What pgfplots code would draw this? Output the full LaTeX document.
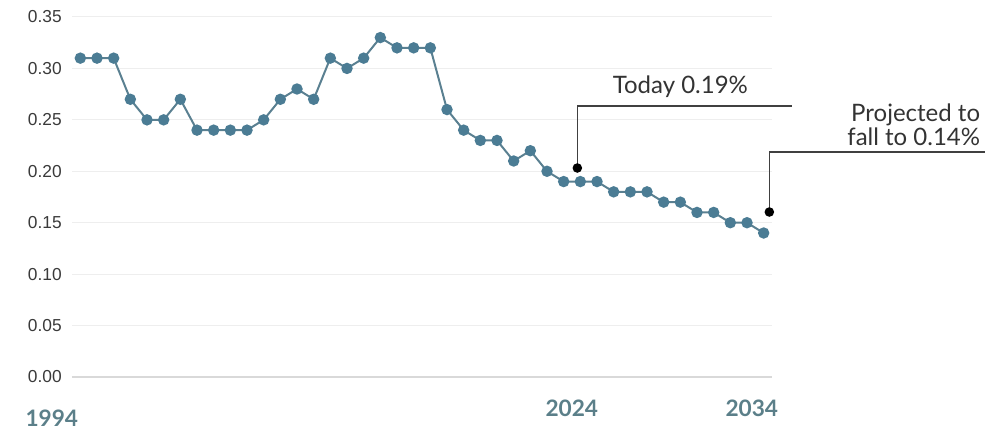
\documentclass[border=0pt]{standalone}
\usepackage{fontspec}
\setmainfont{Lato}
\newfontfamily\tickfont{Liberation Sans}
\usepackage{pgfplots}
\pgfplotsset{compat=1.18}

\definecolor{seriesline}{HTML}{5A8091}
\definecolor{seriesmark}{HTML}{4B7C94}
\definecolor{gridgray}{HTML}{EEEEEE}
\definecolor{basegray}{HTML}{D9D9D9}
\definecolor{ticktext}{HTML}{3A3A3A}
\definecolor{yeartext}{HTML}{5B7F89}
\definecolor{notetext}{HTML}{333333}
\definecolor{leader}{HTML}{404040}

\begin{document}
\begin{tikzpicture}
\useasboundingbox (-54pt,-41.25pt) rectangle (695.25pt,282.75pt);
\begin{axis}[
  at={(0pt,0pt)}, anchor=south west,
  scale only axis, width=525pt, height=270pt,
  xmin=1993.5, xmax=2035.5,
  ymin=0, ymax=0.35,
  xtick=\empty,
  ytick={0,0.05,0.10,0.15,0.20,0.25,0.30,0.35},
  scaled y ticks=false,
  ymajorgrids,
  grid style={line width=0.75pt, color=gridgray},
  axis line style={draw=none},
  major tick length=0pt,
  yticklabel style={
    /pgf/number format/fixed,
    /pgf/number format/fixed zerofill,
    /pgf/number format/precision=2,
    /pgf/number format/assume math mode=true,
    font=\tickfont\fontsize{13}{13}\selectfont,
    text=ticktext, anchor=east, inner sep=0pt, xshift=-7.5pt},
  clip=false,
]
% baseline at zero
\draw[basegray, line width=0.9pt] (axis cs:1993.5,0) -- (axis cs:2035.5,0);

% annual values, 1994 onwards
\addplot[seriesline, line width=1.5pt, mark=*,
  mark options={fill=seriesmark, draw=seriesmark}, mark size=3.5pt]
  coordinates {
  (1994,0.31) (1995,0.31) (1996,0.31) (1997,0.27) (1998,0.25) (1999,0.25)
  (2000,0.27) (2001,0.24) (2002,0.24) (2003,0.24) (2004,0.24) (2005,0.25)
  (2006,0.27) (2007,0.28) (2008,0.27) (2009,0.31) (2010,0.30) (2011,0.31)
  (2012,0.33) (2013,0.32) (2014,0.32) (2015,0.32) (2016,0.26) (2017,0.24)
  (2018,0.23) (2019,0.23) (2020,0.21) (2021,0.22) (2022,0.20) (2023,0.19)
  (2024,0.19) (2025,0.19) (2026,0.18) (2027,0.18) (2028,0.18) (2029,0.17)
  (2030,0.17) (2031,0.16) (2032,0.16) (2033,0.15) (2034,0.15) (2035,0.14)
  };

% callout leaders
\addplot[leader, line width=1.1pt, mark=*, mark indices={1},
  mark options={fill=black, draw=black}, mark size=3pt]
  coordinates {(2023.82,0.2032) (2023.82,0.2635) (2036.72,0.2635)};
\addplot[leader, line width=1.1pt, mark=*, mark indices={1},
  mark options={fill=black, draw=black}, mark size=3pt]
  coordinates {(2035.34,0.1604) (2035.34,0.2187) (2048.3,0.2187)};

\node[anchor=base, inner sep=0pt, text=notetext,
  font=\fontsize{18}{18}\selectfont] at (axis cs:2030.0,0.2761) {Today 0.19\%};
\node[anchor=base east, inner sep=0pt, text=notetext, align=right,
  font=\fontsize{18}{16.5}\selectfont] at (axis cs:2048.0,0.2255)
  {Projected to\\fall to 0.14\%};

% year labels
\node[inner sep=0pt, text=yeartext, font=\bfseries\fontsize{17}{17}\selectfont]
  at (axis cs:2023.49,-0.0306) {2024};
\node[inner sep=0pt, text=yeartext, font=\bfseries\fontsize{17}{17}\selectfont]
  at (axis cs:2034.29,-0.0306) {2034};
\node[inner sep=0pt, text=yeartext, font=\bfseries\fontsize{17}{17}\selectfont]
  at (axis cs:1992.29,-0.0399) {1994};
\end{axis}
\end{tikzpicture}
\end{document}
